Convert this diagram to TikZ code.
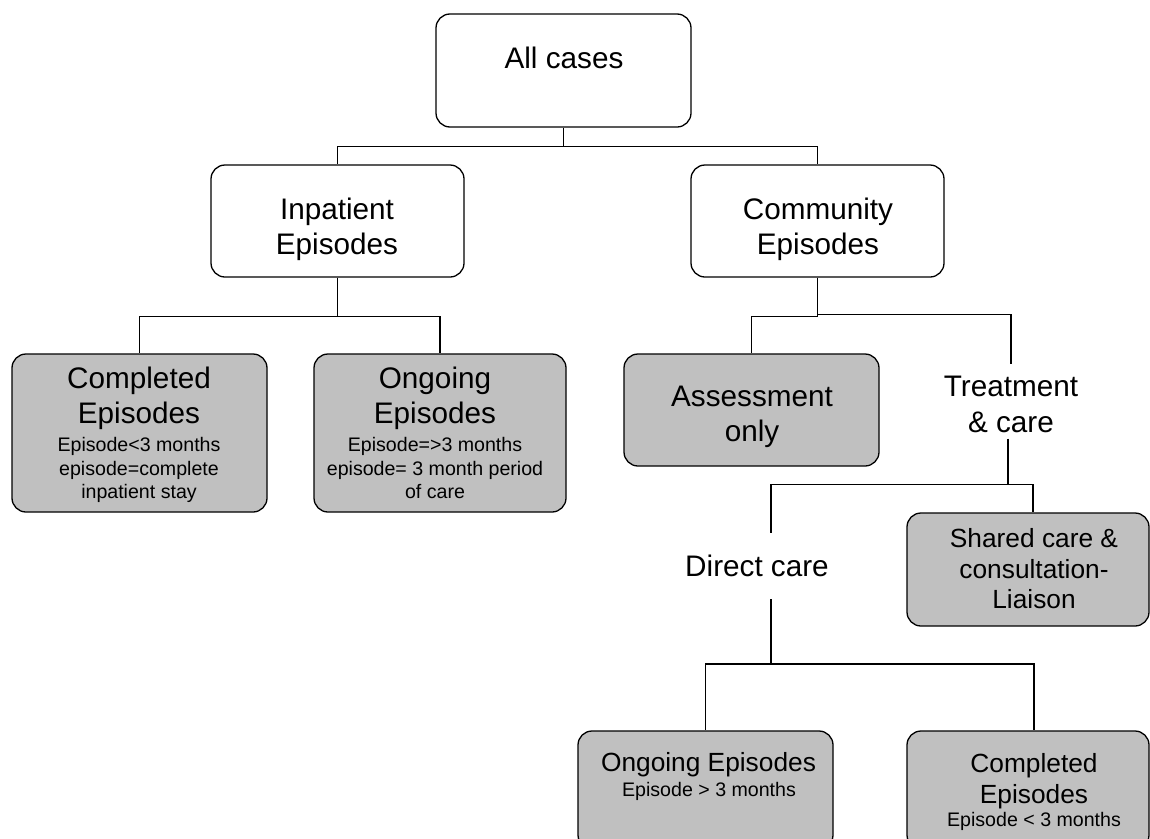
\documentclass[tikz,border=0pt]{standalone}
\usepackage{fontspec}
\setmainfont{Liberation Sans}
\definecolor{boxgray}{RGB}{192,192,192}
\newcommand{\fsbig}{\fontsize{29.7}{35}\selectfont}
\newcommand{\fsmed}{\fontsize{26.3}{30.5}\selectfont}
\newcommand{\fssmall}{\fontsize{19.6}{23.5}\selectfont}
\tikzset{
  whitebox/.style={draw=black, line width=1.3pt, fill=white, rounded corners=14pt, inner sep=0pt, minimum width=#1},
  graybox/.style={draw=black, line width=1.3pt, fill=boxgray, rounded corners=14pt, inner sep=0pt, minimum width=#1},
  txt/.style={anchor=north, inner sep=0pt, outer sep=0pt, align=center, text=black},
  conn/.style={draw=black, line width=1.3pt}
}
\begin{document}
\begin{tikzpicture}[x=1pt,y=-1pt]
\useasboundingbox (0,0) rectangle (1150,838);
\clip (0,0) rectangle (1150,838);
\fill[white] (0,0) rectangle (1150,838);

% boxes
\node[whitebox=255pt, minimum height=113pt] (all)  at (563.5,70.5) {};
\node[whitebox=253pt, minimum height=112pt] (inp)  at (337.5,221) {};
\node[whitebox=253pt, minimum height=112pt] (com)  at (817.5,221) {};
\node[graybox=255pt, minimum height=158pt] (comp) at (139.5,433) {};
\node[graybox=252pt, minimum height=158pt] (ong)  at (440,433) {};
\node[graybox=255pt, minimum height=112pt] (ass)  at (751.5,410) {};
\node[graybox=242pt, minimum height=113pt] (shr)  at (1028,569.5) {};
\node[graybox=255pt, minimum height=118pt] (bong) at (705.5,790) {};
\node[graybox=242pt, minimum height=118pt] (bcomp) at (1028,790) {};

% texts
\node[txt, font=\fsbig] (tall) at (564,47.3) {All cases};
\node[txt, font=\fsbig] (tinp) at (337,198.3) {Inpatient\\Episodes};
\node[txt, font=\fsbig] (tcom) at (818,198.3) {Community\\Episodes};
\node[txt, font=\fsbig] (tcomp) at (139,367.3) {Completed\\Episodes};
\node[txt, font=\fssmall] (dcomp) at (139,437.7) {Episode<3 months\\episode=complete\\inpatient stay};
\node[txt, font=\fsbig] (tong) at (435,367.3) {Ongoing\\Episodes};
\node[txt, font=\fssmall] (dong) at (435,437.7) {Episode=>3 months\\episode= 3 month period\\of care};
\node[txt, font=\fsbig] (tass) at (752,386.3) {Assessment\\only};
\node[txt, font=\fontsize{29.7}{35.5}\selectfont] (treat) at (1011,376.3) {Treatment\\\& care};
\node[txt, font=\fsbig] (direct) at (757,555.3) {Direct care};
\node[txt, font=\fsmed] (tshr) at (1034,528.8) {Shared care \&\\consultation-\\Liaison};
\node[txt, font=\fsmed] (tbong) at (708.5,752.8) {Ongoing Episodes};
\node[txt, font=\fssmall] (dbong) at (709,782.7) {Episode > 3 months};
\node[txt, font=\fsmed] (tbcomp) at (1034,753.8) {Completed\\Episodes};
\node[txt, font=\fssmall] (dbcomp) at (1034,812.7) {Episode < 3 months};

% connectors
\draw[conn] (all.south) -- ++(0,19) coordinate (j1);
\draw[conn] (j1) -| (inp.north);
\draw[conn] (j1) -| (com.north);

\draw[conn] (inp.south) -- ++(0,39) coordinate (j2);
\draw[conn] (j2) -| (comp.north);
\draw[conn] (j2) -| (ong.north);

\draw[conn] (com.south) -- ++(0,39) -| (ass.north);
\draw[conn] (com.south) ++(0,37) coordinate (j3);
\draw[conn] (j3) -| ([yshift=12pt]treat.north);

\draw[conn] ([xshift=-3pt,yshift=-6pt]treat.south) -- ++(0,46) coordinate (j4);
\draw[conn] (j4) -| ([xshift=5pt]shr.north);
\draw[conn] (j4) -| ([xshift=14pt,yshift=22pt]direct.north);

\draw[conn] ([xshift=14pt,yshift=-22pt]direct.south) -- ++(0,65) coordinate (j5);
\draw[conn] (j5) -| (bong.north);
\draw[conn] (j5) -| ([xshift=6pt]bcomp.north);
\end{tikzpicture}
\end{document}
